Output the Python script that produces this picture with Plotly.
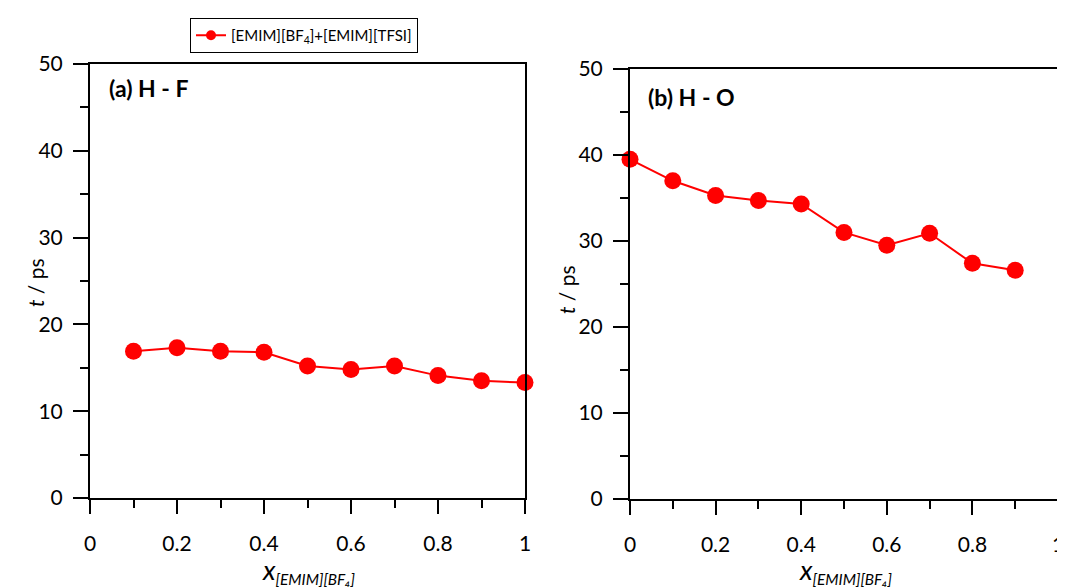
import plotly.graph_objects as go

x_hf = [0.1, 0.2, 0.3, 0.4, 0.5, 0.6, 0.7, 0.8, 0.9, 1.0]
t_hf = [16.9, 17.3, 16.9, 16.8, 15.2, 14.8, 15.2, 14.1, 13.5, 13.3]

x_ho = [0.0, 0.1, 0.2, 0.3, 0.4, 0.5, 0.6, 0.7, 0.8, 0.9]
t_ho = [39.5, 37.0, 35.3, 34.7, 34.3, 31.0, 29.5, 30.9, 27.4, 26.6]

series_name = "[EMIM][BF<sub>4</sub>]+[EMIM][TFSI]"
panel_labels = ["(a) H - F", "(b) H - O"]
x_title = ('<i><span style="font-size:27px">x</span>'
           '<sub>[EMIM][BF₄]</sub></i>')
y_title = "<i>t</i> / ps"

RED = "#ff0000"
FONT = "Lato, Open Sans, sans-serif"

# page body margin offsets the figure by ~8px; compensate
OFF = 8
W, H = 1065 - OFF, 588 - OFF


def px(x):
    return (x - OFF) / W


def py(y):
    return 1 - (y - OFF) / H


fig = go.Figure()
fig.add_trace(go.Scatter(x=x_hf, y=t_hf, mode="lines+markers", name=series_name,
                         line=dict(color=RED, width=2), marker=dict(color=RED, size=17),
                         cliponaxis=False, xaxis="x", yaxis="y", showlegend=False))
fig.add_trace(go.Scatter(x=x_ho, y=t_ho, mode="lines+markers", name=series_name,
                         line=dict(color=RED, width=2), marker=dict(color=RED, size=17),
                         cliponaxis=False, xaxis="x2", yaxis="y2", showlegend=False))
# legend entry only (smaller marker as in the reference legend)
fig.add_trace(go.Scatter(x=[None], y=[None], mode="lines+markers", name=series_name,
                         line=dict(color=RED, width=2), marker=dict(color=RED, size=10),
                         xaxis="x", yaxis="y", showlegend=True))


def xax(domain, anchor):
    return dict(domain=domain, anchor=anchor, range=[0, 1], dtick=0.2, tick0=0,
                showline=True, linecolor="black", linewidth=2, mirror=True,
                ticks="outside", ticklen=14, tickwidth=2, tickcolor="black",
                minor=dict(dtick=0.1, ticks="outside", ticklen=8, tickwidth=2, tickcolor="black"),
                showgrid=False, zeroline=False, ticklabelstandoff=12, automargin=False,
                tickfont=dict(size=21, color="black", family=FONT))


def yax(domain, anchor):
    return dict(domain=domain, anchor=anchor, range=[0, 50], dtick=10, tick0=0,
                showline=True, linecolor="black", linewidth=2, mirror=True,
                ticks="outside", ticklen=15, tickwidth=2, tickcolor="black",
                minor=dict(dtick=5, ticks="outside", ticklen=8, tickwidth=2, tickcolor="black"),
                showgrid=False, zeroline=False, ticklabelstandoff=6, automargin=False,
                tickfont=dict(size=21, color="black", family=FONT))


def ann(text, x, y, size=21, angle=0, xanchor="center"):
    return dict(text=text, xref="paper", yref="paper", x=px(x), y=py(y),
                xanchor=xanchor, yanchor="middle", showarrow=False, textangle=angle,
                font=dict(size=size, color="black", family=FONT))


fig.update_layout(
    width=W, height=H, margin=dict(l=0, r=0, t=0, b=0, autoexpand=False),
    paper_bgcolor="white", plot_bgcolor="white",
    font=dict(family=FONT, color="black"),
    xaxis=xax([px(90), px(525)], "y"),
    yaxis=yax([py(498), py(64)], "x"),
    xaxis2=xax([px(630), px(1058)], "y2"),
    yaxis2=yax([py(499), py(69)], "x2"),
    legend=dict(x=px(190), y=py(18), xanchor="left", yanchor="top",
                bordercolor="black", borderwidth=1, bgcolor="white",
                font=dict(size=15, color="black", family=FONT),
                itemwidth=30, tracegroupgap=0),
    annotations=[
        ann("<b>" + panel_labels[0] + "</b>", 107, 88, size=23, xanchor="left"),
        ann("<b>" + panel_labels[1] + "</b>", 646, 97, size=23, xanchor="left"),
        ann(x_title, 308, 570, size=22),
        ann(x_title, 845, 570, size=22),
        ann(y_title, 35, 283, angle=-90),
        ann(y_title, 566, 290, angle=-90),
    ],
)

fig.write_html("out.html")
